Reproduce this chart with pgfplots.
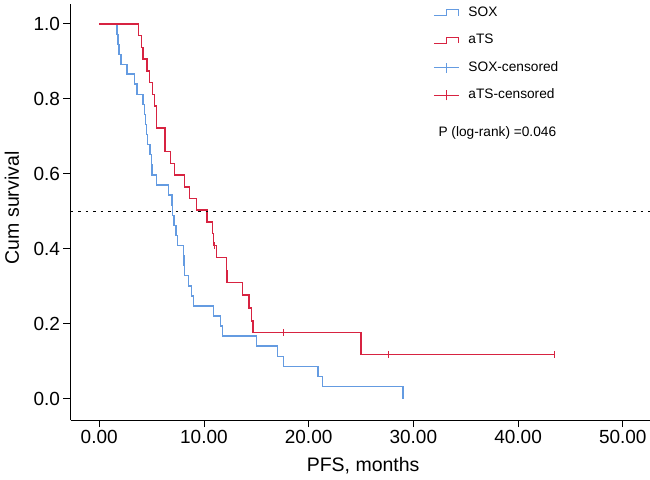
\documentclass[border=0pt]{standalone}
\usepackage{pgfplots}
\pgfplotsset{compat=1.18}
\usepackage{fontspec}
\setmainfont{Liberation Sans}
\definecolor{soxblue}{RGB}{100,155,225}
\definecolor{atsred}{RGB}{215,35,65}
\begin{document}
\begin{tikzpicture}
\path[use as bounding box] (0,0) rectangle (650bp,480bp);
\begin{axis}[
  at={(70.5bp,60bp)}, anchor=south west,
  scale only axis, width=579.5bp, height=416bp,
  xmin=-2.74, xmax=52.6, ymin=-0.057, ymax=1.053,
  axis x line=bottom, axis y line=left,
  axis line style={-, line width=0.8bp, black},
  tick align=outside, major tick length=7bp,
  tick style={line width=0.8bp, black},
  xtick={0,10,20,30,40,50}, ytick={0,0.2,0.4,0.6,0.8,1.0},
  xticklabel style={/pgf/number format/.cd, fixed, fixed zerofill, precision=2},
  yticklabel style={/pgf/number format/.cd, fixed, fixed zerofill, precision=1},
  /pgf/number format/assume math mode=true,
  tick label style={font=\fontsize{19bp}{22bp}\selectfont},
  label style={font=\fontsize{19.5bp}{22bp}\selectfont},
  xlabel={PFS, months}, ylabel={Cum survival},
  xlabel style={at={(axis description cs:0.505,-0.11)}, anchor=center},
  ylabel style={at={(axis description cs:-0.101,0.51)}, anchor=center},
  legend style={draw=none, fill=none, at={(axis description cs:0.6255,0.995)}, anchor=north west,
    inner sep=0pt, row sep=14.5bp,
    nodes={inner sep=0pt, text height=10bp, text depth=3bp},
    font=\fontsize{13.7bp}{16bp}\selectfont,
    /tikz/every odd column/.append style={column sep=9bp}},
  legend cell align=left,
]
\addplot[soxblue, line width=1.4bp, const plot, mark=none,
  legend image code/.code={\draw[soxblue, line width=1.3bp] (0bp,-3bp) -- (12.5bp,-3bp) -- (12.5bp,3bp) -- (25bp,3bp) -- (25bp,-3bp);}]
coordinates {
(0,1) (1.7,0.972) (1.8,0.945) (1.9,0.919) (2.1,0.892) (2.65,0.866) (3.35,0.839) (3.6,0.812)
(4.2,0.785) (4.3,0.758) (4.4,0.731) (4.5,0.705) (4.6,0.678) (4.85,0.651) (5.0,0.624) (5.05,0.597)
(5.5,0.570) (6.6,0.543) (6.95,0.516) (7.0,0.489) (7.15,0.462) (7.35,0.435) (7.5,0.409)
(8.05,0.382) (8.1,0.355) (8.15,0.328) (8.5,0.301) (8.8,0.274) (9.0,0.247) (10.9,0.221)
(11.6,0.194) (11.75,0.167) (15.0,0.140) (17.0,0.113) (17.6,0.086) (20.9,0.059) (21.3,0.032)
(29.0,0.0)
};
\addlegendentry{SOX}
\addplot[atsred, line width=1.4bp, const plot, mark=none,
  legend image code/.code={\draw[atsred, line width=1.3bp] (0bp,-3bp) -- (12.5bp,-3bp) -- (12.5bp,3bp) -- (25bp,3bp) -- (25bp,-3bp);}]
coordinates {
(0,1) (3.75,0.969) (4.05,0.937) (4.17,0.906) (4.55,0.874) (4.8,0.843) (5.1,0.812) (5.3,0.781)
(5.45,0.75) (5.5,0.722) (6.3,0.659) (6.8,0.628) (7.2,0.597) (8.15,0.565) (8.6,0.534) (9.3,0.503)
(10.3,0.471) (10.8,0.44) (10.9,0.409) (11.2,0.377) (12.15,0.341) (12.2,0.31) (13.66,0.277)
(14.3,0.242) (14.55,0.207) (14.7,0.177) (25.0,0.118) (43.5,0.118)
};
\addlegendentry{aTS}
\addlegendimage{soxblue, line width=1.3bp,
  legend image code/.code={\draw[soxblue, line width=1.3bp] (0bp,0bp) -- (25bp,0bp); \draw[soxblue, line width=1.3bp] (12.5bp,-5bp) -- (12.5bp,5bp);}}
\addlegendentry{SOX-censored}
\addplot[atsred, only marks, mark=|, mark size=3.5bp, mark options={line width=1.4bp},
  legend image code/.code={\draw[atsred, line width=1.3bp] (0bp,0bp) -- (25bp,0bp); \draw[atsred, line width=1.3bp] (12.5bp,-5bp) -- (12.5bp,5bp);}]
coordinates {(11.0,0.409) (17.6,0.177) (27.6,0.118) (43.5,0.118)};
\addlegendentry{aTS-censored}
\addplot[black, line width=1bp, dash pattern=on 2.5bp off 5bp, forget plot]
coordinates {(-2.74,0.5) (52.6,0.5)};
\node[anchor=west, font=\fontsize{13.7bp}{16bp}\selectfont] at (axis description cs:0.629,0.69) {P (log-rank) =0.046};
\end{axis}
\end{tikzpicture}
\end{document}
